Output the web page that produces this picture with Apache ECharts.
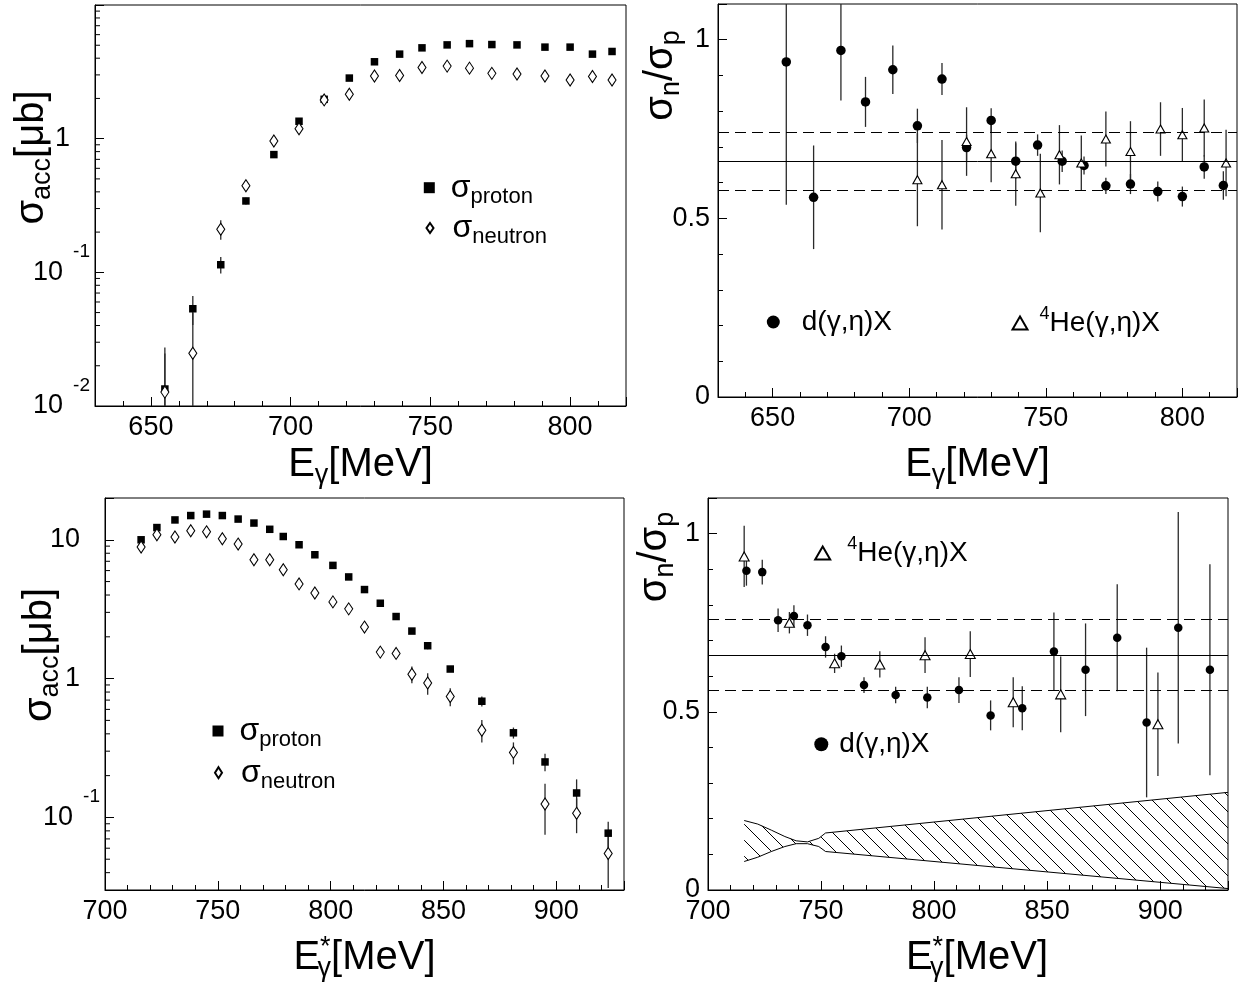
<!DOCTYPE html>
<html>
<head>
<meta charset="utf-8">
<title>eta photoproduction on deuteron</title>
<script src="https://cdn.jsdelivr.net/npm/echarts@6.0.0/dist/echarts.min.js"></script>
<style>
html,body{margin:0;padding:0;background:#fff;}
#chart{width:1242px;height:990px;}
</style>
</head>
<body>
<div id="chart"></div>
<script>
// ---------------- DATA ----------------
// Top-left: sigma_acc vs E_gamma
const tlEnergy     = [655,665,675,684,694,703,712,721,730,739,747,756,764,772,781,791,800,808,815];
const tlProton     = [0.0134,0.0534,0.114,0.342,0.76,1.35,1.97,2.84,3.76,4.29,4.78,5.03,5.14,5.06,5.03,4.84,4.84,4.29,4.49];
const tlProtonErr  = [0.014,0.013,0.016,0.02,0.03,0.05,0.12,0.08,0.08,0.08,0.08,0.08,0.08,0.08,0.08,0.08,0.08,0.08,0.08];
const tlNeutron    = [0.0127,0.0248,0.210,0.444,0.96,1.187,1.95,2.15,2.94,2.97,3.41,3.49,3.37,3.08,3.05,2.94,2.75,2.92,2.75];
const tlNeutronErr = [0.012,0.025,0.035,0.03,0.05,0.06,0.12,0.08,0.08,0.08,0.08,0.08,0.08,0.08,0.08,0.08,0.08,0.08,0.08];

// Top-right: sigma_n / sigma_p vs E_gamma
const trDEnergy  = [655,665,675,684,694,703,712,721,730,739,747,756,764,772,781,791,800,808,815];
const trDRatio   = [0.938,0.559,0.970,0.826,0.916,0.759,0.890,0.698,0.774,0.660,0.705,0.660,0.648,0.591,0.596,0.575,0.561,0.644,0.592];
const trDErr     = [0.40,0.145,0.14,0.07,0.068,0.048,0.045,0.036,0.034,0.05,0.03,0.03,0.025,0.023,0.028,0.028,0.028,0.033,0.04];
const trHeEnergy = [703,712,721,730,739,748,755,763,772,781,792,800,808,816];
const trHeRatio  = [0.608,0.594,0.715,0.681,0.625,0.571,0.678,0.655,0.722,0.687,0.750,0.734,0.753,0.655];
const trHeErr    = [0.13,0.125,0.096,0.08,0.09,0.11,0.083,0.077,0.077,0.085,0.075,0.075,0.08,0.093];
const trMean     = [0.664];
const trLimits   = [0.585, 0.743];

// Bottom-left: sigma_acc vs E*_gamma
const blEnergy     = [716,723,731,738,745,752,759,766,773,779,786,793,801,808,815,822,829,836,843,853,867,881,895,909,923];
const blProton     = [10.0,12.25,13.9,14.95,15.3,14.95,14.1,13.2,11.9,10.56,9.21,7.80,6.54,5.40,4.38,3.49,2.80,2.20,1.725,1.172,0.687,0.407,0.251,0.150,0.077];
const blProtonErr  = [0.2,0.2,0.2,0.2,0.2,0.2,0.2,0.2,0.2,0.2,0.15,0.12,0.1,0.08,0.07,0.06,0.05,0.05,0.1,0.05,0.057,0.037,0.036,0.038,0.016];
const blNeutron    = [8.87,10.86,10.46,11.61,11.41,10.17,9.31,7.19,7.19,6.09,4.81,4.14,3.57,3.18,2.35,1.552,1.519,1.074,0.930,0.743,0.425,0.294,0.125,0.107,0.055];
const blNeutronErr = [0.2,0.2,0.2,0.3,0.3,0.25,0.25,0.2,0.25,0.2,0.15,0.15,0.12,0.12,0.08,0.07,0.08,0.15,0.165,0.11,0.078,0.053,0.05,0.03,0.024];

// Bottom-right: sigma_n / sigma_p vs E*_gamma
const brDEnergy  = [717,724,731,738,744,752,759,769,783,797,811,825,839,853,867,881,894,908,922];
const brDRatio   = [0.896,0.892,0.757,0.769,0.743,0.682,0.656,0.575,0.547,0.540,0.561,0.490,0.510,0.669,0.618,0.708,0.470,0.736,0.618];
const brDErr     = [0.042,0.035,0.033,0.03,0.03,0.03,0.03,0.022,0.023,0.03,0.036,0.042,0.062,0.11,0.13,0.15,0.21,0.325,0.296];
const brHeEnergy = [716,736,756,776,796,816,835,856,899];
const brHeRatio  = [0.936,0.750,0.636,0.633,0.659,0.662,0.527,0.549,0.465];
const brHeErr    = [0.086,0.03,0.027,0.037,0.05,0.064,0.07,0.106,0.145];
const brMean     = [0.657];
const brLimits   = [0.557, 0.759];
const bandEnergy = [716,722,728,734,739,744,749,752,930];
const bandUpper  = [0.195,0.185,0.168,0.150,0.138,0.135,0.145,0.160,0.274];
const bandLower  = [0.080,0.092,0.108,0.122,0.130,0.130,0.122,0.108,0.004];

// Axis ranges and tick labels
const topXRange = [630, 820];
const botXRange = [700, 930];
const tlYRange  = [0.01, 10];
const blYRange  = [0.03, 20];
const ratioRange = [0, 1.1];
const topXTicks = [650, 700, 750, 800];
const botXTicks = [700, 750, 800, 850, 900];
const tlYTickValues = [0.01, 0.1, 1];
const tlYTickLabels = ['{b|10}{e|-2}', '{b|10}{e|-1}', '{a|1}'];
const blYTickValues = [0.1, 1, 10];
const blYTickLabels = ['{b|10}{e|-1}', '{a|1}', '{a|10}'];
const ratioTickValues = [0, 0.5, 1];
const ratioTickLabels = ['0', '0.5', '1'];
const tlYMinor = [0.02,0.03,0.04,0.05,0.06,0.07,0.08,0.09,0.2,0.3,0.4,0.5,0.6,0.7,0.8,0.9,2,3,4,5,6,7,8,9];
const blYMinor = [0.04,0.05,0.06,0.07,0.08,0.09,0.2,0.3,0.4,0.5,0.6,0.7,0.8,0.9,2,3,4,5,6,7,8,9];

// ---------------- STYLE HELPERS ----------------
const FONT = '"Liberation Sans", Arial, Helvetica, sans-serif';
const BLACK = '#000';
function tok(size, extra) { return Object.assign({fontSize: size, fontFamily: FONT, color: BLACK}, extra || {}); }

const titleRich = {
  g: tok(40, {lineHeight: 48}),
  s: tok(27, {lineHeight: 14, verticalAlign: 'bottom'}),
  p: tok(27, {lineHeight: 14, verticalAlign: 'top'}),
  q: tok(27, {lineHeight: 14, verticalAlign: 'bottom', padding: [0, 0, 0, -13]})
};
const logRich = {
  a: tok(27, {lineHeight: 60, padding: [0, 20, 0, 0]}),
  b: tok(27, {lineHeight: 60}),
  e: tok(19, {lineHeight: 14, verticalAlign: 'top', padding: [0, 0, 0, 10]})
};

// hatch pattern for the band
const HS = 16;
const hatch = document.createElement('canvas');
hatch.width = HS; hatch.height = HS;
(function () {
  const g = hatch.getContext('2d');
  g.strokeStyle = '#000'; g.lineWidth = 1;
  g.beginPath();
  g.moveTo(0, 0); g.lineTo(HS, HS);
  g.moveTo(-2, HS - 2); g.lineTo(2, HS + 2);
  g.moveTo(HS - 2, -2); g.lineTo(HS + 2, 2);
  g.stroke();
})();

function matchLabel(vals, labels) {
  return function (v) {
    for (let i = 0; i < vals.length; i++) {
      if (Math.abs(v - vals[i]) <= 1e-6 * Math.max(1, Math.abs(vals[i]))) return labels[i];
    }
    return '';
  };
}

function xAxisCfg(gridIndex, range, ticks, name, nameGap, namePad) {
  return {
    type: 'value', gridIndex: gridIndex, min: range[0], max: range[1],
    minInterval: 50, maxInterval: 50,
    axisLine: {show: true, onZero: false, lineStyle: {color: BLACK, width: 1}},
    axisTick: {show: true, inside: true, length: 9, lineStyle: {color: BLACK, width: 1}},
    minorTick: {show: true, splitNumber: 5, length: 5, lineStyle: {color: BLACK, width: 1}},
    splitLine: {show: false}, minorSplitLine: {show: false},
    axisLabel: {show: true, color: BLACK, fontFamily: FONT, fontSize: 27, margin: 8,
      formatter: matchLabel(ticks, ticks.map(String))},
    name: name, nameLocation: 'middle', nameGap: nameGap, nameMoveOverlap: false,
    nameTextStyle: {color: BLACK, fontFamily: FONT, fontSize: 40, rich: titleRich, padding: namePad || 0}
  };
}
function yLogCfg(gridIndex, range, vals, labels, name, nameGap, namePad) {
  return {
    type: 'log', logBase: 10, gridIndex: gridIndex, min: range[0], max: range[1],
    axisLine: {show: true, onZero: false, lineStyle: {color: BLACK, width: 1}},
    axisTick: {show: true, inside: true, length: 9, lineStyle: {color: BLACK, width: 1}},
    minorTick: {show: false},
    splitLine: {show: false}, minorSplitLine: {show: false},
    axisLabel: {show: true, color: BLACK, fontFamily: FONT, fontSize: 27, margin: 5,
      rich: logRich, formatter: matchLabel(vals, labels)},
    name: name, nameLocation: 'middle', nameRotate: 90, nameGap: nameGap, nameMoveOverlap: false,
    nameTextStyle: {color: BLACK, fontFamily: FONT, fontSize: 40, rich: titleRich, padding: namePad || 0}
  };
}
function yLinCfg(gridIndex, name, nameGap, namePad) {
  return {
    type: 'value', gridIndex: gridIndex, min: ratioRange[0], max: ratioRange[1],
    minInterval: 0.5, maxInterval: 0.5,
    axisLine: {show: true, onZero: false, lineStyle: {color: BLACK, width: 1}},
    axisTick: {show: true, inside: true, length: 9, lineStyle: {color: BLACK, width: 1}},
    minorTick: {show: true, splitNumber: 5, length: 5, lineStyle: {color: BLACK, width: 1}},
    splitLine: {show: false}, minorSplitLine: {show: false},
    axisLabel: {show: true, color: BLACK, fontFamily: FONT, fontSize: 27, margin: 8,
      formatter: matchLabel(ratioTickValues, ratioTickLabels)},
    name: name, nameLocation: 'middle', nameRotate: 90, nameGap: nameGap, nameMoveOverlap: false,
    nameTextStyle: {color: BLACK, fontFamily: FONT, fontSize: 40, rich: titleRich, padding: namePad || 0}
  };
}

function errBars(idx, E, V, Err, lo, hi) {
  return {
    type: 'custom', xAxisIndex: idx, yAxisIndex: idx, silent: true, z: 2, clip: true,
    data: E.map(function (e, i) { return [e, V[i], Err[i]]; }),
    encode: {x: 0, y: 1},
    renderItem: function (params, api) {
      const x = api.value(0), y = api.value(1), er = api.value(2);
      const a = api.coord([x, Math.max(y - er, lo)]);
      const b = api.coord([x, Math.min(y + er, hi)]);
      return {type: 'line', shape: {x1: a[0], y1: a[1], x2: b[0], y2: b[1]},
        style: {stroke: '#2a2a2a', lineWidth: 1.3}};
    }
  };
}
function marks(idx, name, E, V, symbol, size, open, extra) {
  return Object.assign({
    type: 'scatter', name: name, xAxisIndex: idx, yAxisIndex: idx, silent: true, z: 3,
    data: E.map(function (e, i) { return [e, V[i]]; }),
    symbol: symbol, symbolSize: size,
    itemStyle: open ? {color: '#fff', borderColor: BLACK, borderWidth: 1.1, opacity: 1}
                    : {color: BLACK, borderWidth: 0, opacity: 1}
  }, extra || {});
}
function logMinorTicks(idx, xMin, vals) {
  return {
    type: 'custom', xAxisIndex: idx, yAxisIndex: idx, silent: true, z: 5,
    data: vals.map(function (v) { return [xMin, v]; }),
    renderItem: function (params, api) {
      const c = api.coord([api.value(0), api.value(1)]);
      return {type: 'line', shape: {x1: c[0], y1: c[1], x2: c[0] + 5, y2: c[1]},
        style: {stroke: BLACK, lineWidth: 1}};
    }
  };
}
function levelLines(mean, limits) {
  return {
    silent: true, symbol: ['none', 'none'], label: {show: false},
    lineStyle: {color: BLACK, width: 1},
    data: [
      {yAxis: mean[0], lineStyle: {type: 'solid', color: BLACK, width: 1}},
      {yAxis: limits[0], lineStyle: {type: [11, 6], color: BLACK, width: 1}},
      {yAxis: limits[1], lineStyle: {type: [11, 6], color: BLACK, width: 1}}
    ]
  };
}
function legendCfg(seriesName, cx, cy, w, h, lineH, text, rich) {
  return {
    data: [seriesName], left: cx - w / 2, top: cy - lineH / 2, padding: 0,
    itemWidth: w, itemHeight: h, selectedMode: false, orient: 'horizontal',
    formatter: function () { return text; },
    textStyle: {color: BLACK, fontFamily: FONT, rich: rich}
  };
}
function sigmaRich(pad) {
  return {g: tok(32, {lineHeight: 40, padding: [0, 0, 0, pad]}),
          s: tok(22, {lineHeight: 20, verticalAlign: 'bottom'})};
}
function reacRich(pad, padFirstIsSup) {
  return {m: tok(28, {lineHeight: 36, padding: [0, 0, 0, padFirstIsSup ? 0 : pad]}),
          e: tok(18, {lineHeight: 14, verticalAlign: 'top', padding: [0, 0, 0, padFirstIsSup ? pad : 0]})};
}

function bandRender(params, api) {
  const up = bandEnergy.map(function (e, i) { return api.coord([e, bandUpper[i]]); });
  const lo = bandEnergy.map(function (e, i) { return api.coord([e, bandLower[i]]); });
  const poly = up.concat(lo.slice().reverse());
  return {type: 'group', children: [
    {type: 'polygon', shape: {points: poly}, style: {fill: {image: hatch, repeat: 'repeat'}, stroke: null}},
    {type: 'polyline', shape: {points: up}, style: {stroke: BLACK, lineWidth: 1, fill: null}},
    {type: 'polyline', shape: {points: lo}, style: {stroke: BLACK, lineWidth: 1, fill: null}}
  ]};
}

// ---------------- CHART ----------------
const gridBase = {show: true, borderColor: BLACK, borderWidth: 1, backgroundColor: 'transparent',
  containLabel: false, outerBoundsMode: 'none'};

const option = {
  animation: false,
  backgroundColor: '#fff',
  grid: [
    Object.assign({left: 95, top: 5, width: 531, height: 401}, gridBase),
    Object.assign({left: 718, top: 4, width: 519, height: 393}, gridBase),
    Object.assign({left: 105, top: 498, width: 519, height: 392}, gridBase),
    Object.assign({left: 708, top: 498, width: 520, height: 392}, gridBase)
  ],
  xAxis: [
    xAxisCfg(0, topXRange, topXTicks, '{g|E}{s|γ}{g|[MeV]}', 35),
    xAxisCfg(1, topXRange, topXTicks, '{g|E}{s|γ}{g|[MeV]}', 44),
    xAxisCfg(2, botXRange, botXTicks, '{g|E}{p|*}{q|γ}{g|[MeV]}', 44),
    xAxisCfg(3, botXRange, botXTicks, '{g|E}{p|*}{q|γ}{g|[MeV]}', 44, [0, 0, 0, 18])
  ],
  yAxis: [
    yLogCfg(0, tlYRange, tlYTickValues, tlYTickLabels, '{g|σ}{s|acc}{g|[μb]}', 39, [0, 0, 0, 96]),
    yLinCfg(1, '{g|σ}{s|n}{g|/σ}{s|p}', 33, [0, 0, 0, 250]),
    yLogCfg(2, blYRange, blYTickValues, blYTickLabels, '{g|σ}{s|acc}{g|[μb]}', 41, [0, 0, 0, 78]),
    yLinCfg(3, '{g|σ}{s|n}{g|/σ}{s|p}', 29, [0, 0, 0, 274])
  ],
  legend: [
    legendCfg('tl_proton', 429.3, 191.7, 11, 11, 40, '{g|σ}{s|proton}', sigmaRich(11)),
    legendCfg('tl_neutron', 429, 232, 7, 10, 40, '{g|σ}{s|neutron}', sigmaRich(14)),
    legendCfg('tr_d', 773.3, 326, 13, 13, 36, '{m|d(γ,η)X}', reacRich(17, false)),
    legendCfg('tr_he', 1019, 323, 15, 13, 36, '{e|4}{m|He(γ,η)X}', reacRich(7, true)),
    legendCfg('bl_proton', 218, 735, 11, 11, 40, '{g|σ}{s|proton}', sigmaRich(11)),
    legendCfg('bl_neutron', 217.5, 776.7, 7, 11, 40, '{g|σ}{s|neutron}', sigmaRich(14)),
    legendCfg('br_he', 821.7, 553, 15, 13, 36, '{e|4}{m|He(γ,η)X}', reacRich(12, true)),
    legendCfg('br_d', 821.3, 748.3, 14, 14, 36, '{m|d(γ,η)X}', reacRich(6, false))
  ],
  series: [
    // top-left
    logMinorTicks(0, topXRange[0], tlYMinor),
    errBars(0, tlEnergy, tlProton, tlProtonErr, tlYRange[0], tlYRange[1]),
    errBars(0, tlEnergy, tlNeutron, tlNeutronErr, tlYRange[0], tlYRange[1]),
    marks(0, 'tl_proton', tlEnergy, tlProton, 'rect', 7.5, false),
    marks(0, 'tl_neutron', tlEnergy, tlNeutron, 'diamond', [8, 12], true),
    // top-right
    errBars(1, trDEnergy, trDRatio, trDErr, ratioRange[0], ratioRange[1]),
    errBars(1, trHeEnergy, trHeRatio, trHeErr, ratioRange[0], ratioRange[1]),
    marks(1, 'tr_d', trDEnergy, trDRatio, 'circle', 9.5, false, {markLine: levelLines(trMean, trLimits)}),
    marks(1, 'tr_he', trHeEnergy, trHeRatio, 'triangle', [9, 8], true),
    // bottom-left
    logMinorTicks(2, botXRange[0], blYMinor),
    errBars(2, blEnergy, blProton, blProtonErr, blYRange[0], blYRange[1]),
    errBars(2, blEnergy, blNeutron, blNeutronErr, blYRange[0], blYRange[1]),
    marks(2, 'bl_proton', blEnergy, blProton, 'rect', 7.5, false),
    marks(2, 'bl_neutron', blEnergy, blNeutron, 'diamond', [8, 12], true),
    // bottom-right
    {type: 'custom', name: 'band', xAxisIndex: 3, yAxisIndex: 3, silent: true, z: 1,
      data: [[bandEnergy[0], bandUpper[0]]], renderItem: bandRender},
    errBars(3, brDEnergy, brDRatio, brDErr, ratioRange[0], ratioRange[1]),
    errBars(3, brHeEnergy, brHeRatio, brHeErr, ratioRange[0], ratioRange[1]),
    marks(3, 'br_d', brDEnergy, brDRatio, 'circle', 8.5, false, {markLine: levelLines(brMean, brLimits)}),
    marks(3, 'br_he', brHeEnergy, brHeRatio, 'triangle', [10, 9], true)
  ]
};

const chart = echarts.init(document.getElementById('chart'), null, {renderer: 'canvas', width: 1242, height: 990});
chart.setOption(option);
</script>
</body>
</html>
